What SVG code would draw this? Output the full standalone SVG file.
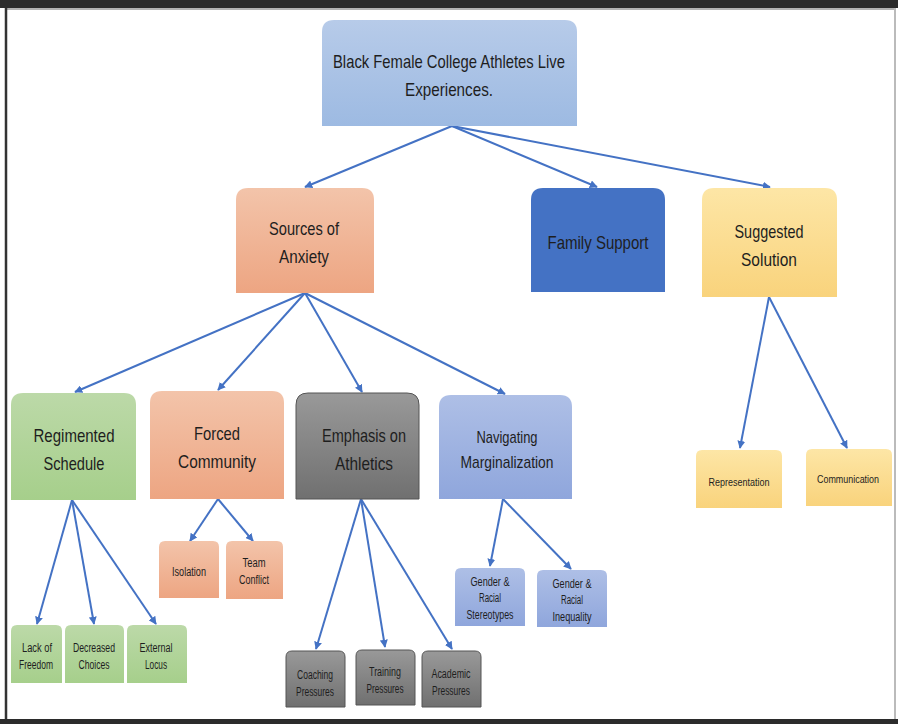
<svg xmlns="http://www.w3.org/2000/svg" width="898" height="724" viewBox="0 0 898 724">
<defs>
<linearGradient id="gBlue" x1="0" y1="0" x2="0" y2="1"><stop offset="0" stop-color="#b7cbe9"/><stop offset="1" stop-color="#9dbae2"/></linearGradient>
<linearGradient id="gOrange" x1="0" y1="0" x2="0" y2="1"><stop offset="0" stop-color="#f3c4aa"/><stop offset="1" stop-color="#eda582"/></linearGradient>
<linearGradient id="gGreen" x1="0" y1="0" x2="0" y2="1"><stop offset="0" stop-color="#bcd9a8"/><stop offset="1" stop-color="#a6cf8b"/></linearGradient>
<linearGradient id="gGray" x1="0" y1="0" x2="0" y2="1"><stop offset="0" stop-color="#999999"/><stop offset="1" stop-color="#707070"/></linearGradient>
<linearGradient id="gLav" x1="0" y1="0" x2="0" y2="1"><stop offset="0" stop-color="#aebfe6"/><stop offset="1" stop-color="#8fa6dc"/></linearGradient>
<linearGradient id="gYellow" x1="0" y1="0" x2="0" y2="1"><stop offset="0" stop-color="#fde6a6"/><stop offset="1" stop-color="#f9d37c"/></linearGradient>
<marker id="arr" viewBox="0 0 10 10" refX="9" refY="5" markerWidth="4" markerHeight="4" orient="auto"><path d="M0,0 L10,5 L0,10 z" fill="#4472c4"/></marker>
<style>
text{font-family:"Liberation Sans",Arial,sans-serif;fill:#1e1e1e;text-anchor:middle}
.t18{font-size:19px}
.t16{font-size:17px}
.t11{font-size:12.5px}
.t10{font-size:11.5px}
.c line{stroke:#4472c4;stroke-width:2;marker-end:url(#arr)}
.gr{stroke:#555;stroke-width:1}
</style>
</defs>
<rect x="0" y="0" width="898" height="724" fill="#ffffff"/>
<rect x="0" y="0" width="898" height="8" fill="#2b2b2b"/>
<line x1="6" y1="9" x2="895" y2="9" stroke="#999" stroke-width="1.5"/>
<line x1="6" y1="8" x2="6" y2="720" stroke="#333" stroke-width="2.5"/>
<line x1="895" y1="8" x2="895" y2="720" stroke="#bbb" stroke-width="2"/>
<rect x="0" y="719" width="898" height="5" fill="#2b2b2b"/>

<g class="c" id="connectors">
<line x1="452" y1="126" x2="305" y2="187"/>
<line x1="452" y1="126" x2="597" y2="187"/>
<line x1="452" y1="126" x2="770" y2="187"/>
<line x1="305" y1="293" x2="75" y2="392"/>
<line x1="305" y1="293" x2="218" y2="390"/>
<line x1="305" y1="293" x2="362" y2="392"/>
<line x1="305" y1="293" x2="505" y2="394"/>
<line x1="72" y1="500" x2="37" y2="624"/>
<line x1="72" y1="500" x2="94" y2="624"/>
<line x1="72" y1="500" x2="156" y2="624"/>
<line x1="218" y1="499" x2="190" y2="541"/>
<line x1="218" y1="499" x2="253" y2="541"/>
<line x1="361" y1="499" x2="316" y2="649"/>
<line x1="361" y1="499" x2="385" y2="647"/>
<line x1="361" y1="499" x2="452" y2="649"/>
<line x1="503" y1="499" x2="490" y2="566"/>
<line x1="503" y1="499" x2="571" y2="569"/>
<line x1="769" y1="297" x2="740" y2="448"/>
<line x1="769" y1="297" x2="847" y2="448"/>
</g>

<g id="root">
<path d="M322,126 V32 Q322,20 334,20 H565 Q577,20 577,32 V126 Z" fill="url(#gBlue)"/>
<text class="t18" x="449" y="68" textLength="232" lengthAdjust="spacingAndGlyphs">Black Female College Athletes Live</text>
<text class="t18" x="449" y="96" textLength="88" lengthAdjust="spacingAndGlyphs">Experiences.</text>
</g>
<g id="sources">
<path d="M236,293 V200 Q236,188 248,188 H362 Q374,188 374,200 V293 Z" fill="url(#gOrange)"/>
<text class="t18" x="304" y="235" textLength="70" lengthAdjust="spacingAndGlyphs">Sources of</text>
<text class="t18" x="304" y="263" textLength="50" lengthAdjust="spacingAndGlyphs">Anxiety</text>
</g>
<g id="family">
<path d="M531,292 V200 Q531,188 543,188 H653 Q665,188 665,200 V292 Z" fill="#4472c4"/>
<text class="t18" x="598" y="249" textLength="101" lengthAdjust="spacingAndGlyphs">Family Support</text>
</g>
<g id="suggested">
<path d="M702,297 V200 Q702,188 714,188 H825 Q837,188 837,200 V297 Z" fill="url(#gYellow)"/>
<text class="t18" x="769" y="238" textLength="69" lengthAdjust="spacingAndGlyphs">Suggested</text>
<text class="t18" x="769" y="266" textLength="56" lengthAdjust="spacingAndGlyphs">Solution</text>
</g>

<g id="regimented">
<path d="M11,500 V405 Q11,393 23,393 H124 Q136,393 136,405 V500 Z" fill="url(#gGreen)"/>
<text class="t18" x="74" y="442" textLength="81" lengthAdjust="spacingAndGlyphs">Regimented</text>
<text class="t18" x="74" y="470" textLength="61" lengthAdjust="spacingAndGlyphs">Schedule</text>
</g>
<g id="forced">
<path d="M150,499 V403 Q150,391 162,391 H272 Q284,391 284,403 V499 Z" fill="url(#gOrange)"/>
<text class="t18" x="217" y="440" textLength="46" lengthAdjust="spacingAndGlyphs">Forced</text>
<text class="t18" x="217" y="468" textLength="78" lengthAdjust="spacingAndGlyphs">Community</text>
</g>
<g id="emphasis">
<path d="M296,499 V405 Q296,393 308,393 H407 Q419,393 419,405 V499 Z" fill="url(#gGray)" class="gr"/>
<text class="t18" x="364" y="442" textLength="84" lengthAdjust="spacingAndGlyphs">Emphasis on</text>
<text class="t18" x="364" y="470" textLength="58" lengthAdjust="spacingAndGlyphs">Athletics</text>
</g>
<g id="navigating">
<path d="M439,499 V407 Q439,395 451,395 H560 Q572,395 572,407 V499 Z" fill="url(#gLav)"/>
<text class="t16" x="507" y="443" textLength="61" lengthAdjust="spacingAndGlyphs">Navigating</text>
<text class="t16" x="507" y="468" textLength="93" lengthAdjust="spacingAndGlyphs">Marginalization</text>
</g>

<g id="lack">
<path d="M11,683 V631 Q11,625 17,625 H56 Q62,625 62,631 V683 Z" fill="url(#gGreen)"/>
<text class="t11" x="37" y="652" textLength="30" lengthAdjust="spacingAndGlyphs">Lack of</text>
<text class="t11" x="36" y="669" textLength="34" lengthAdjust="spacingAndGlyphs">Freedom</text>
</g>
<g id="decreased">
<path d="M65,683 V631 Q65,625 71,625 H118 Q124,625 124,631 V683 Z" fill="url(#gGreen)"/>
<text class="t11" x="94" y="652" textLength="42" lengthAdjust="spacingAndGlyphs">Decreased</text>
<text class="t11" x="94" y="669" textLength="31" lengthAdjust="spacingAndGlyphs">Choices</text>
</g>
<g id="external">
<path d="M127,683 V631 Q127,625 133,625 H181 Q187,625 187,631 V683 Z" fill="url(#gGreen)"/>
<text class="t11" x="156" y="652" textLength="33" lengthAdjust="spacingAndGlyphs">External</text>
<text class="t11" x="156" y="669" textLength="22" lengthAdjust="spacingAndGlyphs">Locus</text>
</g>

<g id="isolation">
<path d="M159,598 V547 Q159,541 165,541 H213 Q219,541 219,547 V598 Z" fill="url(#gOrange)"/>
<text class="t11" x="189" y="576" textLength="34" lengthAdjust="spacingAndGlyphs">Isolation</text>
</g>
<g id="team">
<path d="M226,599 V547 Q226,541 232,541 H277 Q283,541 283,547 V599 Z" fill="url(#gOrange)"/>
<text class="t11" x="254" y="567" textLength="23" lengthAdjust="spacingAndGlyphs">Team</text>
<text class="t11" x="254" y="584" textLength="30" lengthAdjust="spacingAndGlyphs">Conflict</text>
</g>

<g id="coaching">
<path d="M286,707 V657 Q286,651 292,651 H339 Q345,651 345,657 V707 Z" fill="url(#gGray)" class="gr"/>
<text class="t11" x="315" y="679" textLength="36" lengthAdjust="spacingAndGlyphs">Coaching</text>
<text class="t11" x="315" y="696" textLength="38" lengthAdjust="spacingAndGlyphs">Pressures</text>
</g>
<g id="training">
<path d="M356,705 V656 Q356,650 362,650 H409 Q415,650 415,656 V705 Z" fill="url(#gGray)" class="gr"/>
<text class="t11" x="385" y="676" textLength="32" lengthAdjust="spacingAndGlyphs">Training</text>
<text class="t11" x="385" y="693" textLength="37" lengthAdjust="spacingAndGlyphs">Pressures</text>
</g>
<g id="academic">
<path d="M422,707 V657 Q422,651 428,651 H475 Q481,651 481,657 V707 Z" fill="url(#gGray)" class="gr"/>
<text class="t11" x="451" y="678" textLength="39" lengthAdjust="spacingAndGlyphs">Academic</text>
<text class="t11" x="451" y="695" textLength="38" lengthAdjust="spacingAndGlyphs">Pressures</text>
</g>

<g id="stereotypes">
<path d="M455,626 V574 Q455,568 461,568 H519 Q525,568 525,574 V626 Z" fill="url(#gLav)"/>
<text class="t11" x="490" y="586" textLength="39" lengthAdjust="spacingAndGlyphs">Gender &amp;</text>
<text class="t11" x="490" y="602" textLength="22" lengthAdjust="spacingAndGlyphs">Racial</text>
<text class="t11" x="490" y="619" textLength="47" lengthAdjust="spacingAndGlyphs">Stereotypes</text>
</g>
<g id="inequality">
<path d="M537,627 V576 Q537,570 543,570 H601 Q607,570 607,576 V627 Z" fill="url(#gLav)"/>
<text class="t11" x="572" y="588" textLength="39" lengthAdjust="spacingAndGlyphs">Gender &amp;</text>
<text class="t11" x="572" y="604" textLength="22" lengthAdjust="spacingAndGlyphs">Racial</text>
<text class="t11" x="572" y="621" textLength="39" lengthAdjust="spacingAndGlyphs">Inequality</text>
</g>

<g id="representation">
<path d="M696,508 V456 Q696,450 702,450 H776 Q782,450 782,456 V508 Z" fill="url(#gYellow)"/>
<text class="t10" x="739" y="486" textLength="61" lengthAdjust="spacingAndGlyphs">Representation</text>
</g>
<g id="communication">
<path d="M806,506 V455 Q806,449 812,449 H886 Q892,449 892,455 V506 Z" fill="url(#gYellow)"/>
<text class="t10" x="848" y="483" textLength="62" lengthAdjust="spacingAndGlyphs">Communication</text>
</g>
</svg>
